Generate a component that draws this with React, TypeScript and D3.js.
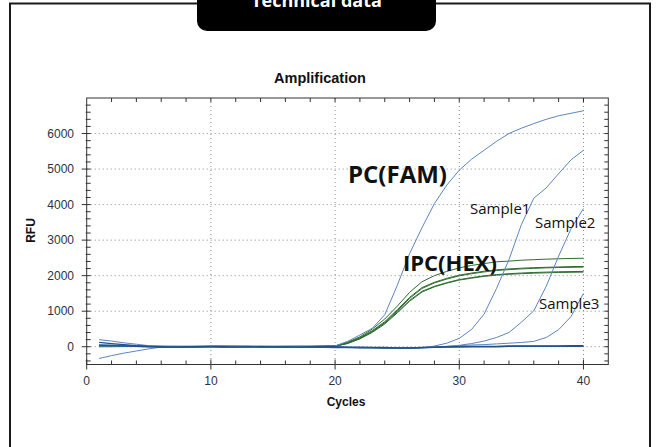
import React from "react";
import * as d3 from "d3";

const cycles = [1,2,3,4,5,6,7,8,9,10,11,12,13,14,15,16,17,18,19,20,21,22,23,24,25,26,27,28,29,30,31,32,33,34,35,36,37,38,39,40];

const pc = [200,160,110,70,30,0,-10,0,10,0,-10,0,10,5,0,-5,0,5,10,20,150,330,520,900,1720,2620,3350,4030,4550,4970,5280,5530,5780,6000,6150,6280,6400,6500,6570,6640];
const sample1 = [20,15,10,5,0,0,-5,-10,0,10,20,10,0,-10,0,5,0,-10,-20,-30,-30,-20,-20,-30,-40,-50,-30,20,100,236,490,920,1640,2450,3435,4180,4470,4870,5260,5530];
const sample2 = [60,50,40,20,10,0,10,0,-10,0,10,20,10,0,-10,-10,0,0,-10,-20,-20,-30,-30,-40,-30,-30,-20,0,10,40,90,160,260,400,690,1010,1700,2550,3320,3890];
const sample3 = [-330,-250,-180,-120,-60,-10,0,-10,-20,0,0,10,10,0,-10,-10,0,-10,-10,-20,-20,-20,-30,-30,-40,-40,-30,-10,10,30,50,60,80,100,120,150,260,480,850,1500];
const ntc1 = [120,90,60,30,10,0,-10,-10,0,10,0,-10,-10,0,0,-10,-10,0,0,0,-10,-10,-20,-20,-30,-30,-20,-10,0,0,10,10,10,20,20,20,20,20,30,30];
const ntc2 = [40,30,20,10,0,-10,-10,0,0,0,-10,-10,0,-10,0,0,-10,-10,-10,-20,-20,-30,-30,-40,-40,-40,-30,-20,-10,0,0,0,0,10,10,10,10,10,10,10];

const hex1 = [40,35,30,25,20,15,10,10,10,15,15,10,10,10,10,10,10,10,15,25,125,280,500,780,1140,1530,1830,2000,2120,2220,2290,2340,2390,2410,2435,2450,2465,2475,2485,2490];
const hex2 = [10,10,10,10,10,5,5,5,10,10,10,5,5,10,10,10,10,10,15,20,110,255,455,705,1040,1390,1665,1815,1925,2015,2075,2125,2165,2190,2210,2225,2235,2245,2255,2260];
const hex3 = [30,25,20,20,15,10,10,10,10,10,10,10,10,10,5,5,10,10,10,15,95,235,430,680,1010,1360,1640,1795,1905,1995,2055,2105,2145,2170,2190,2205,2220,2230,2235,2240];
const hex4 = [0,0,5,5,5,5,10,10,10,10,10,10,10,10,10,10,10,10,15,18,105,240,425,665,975,1305,1560,1700,1805,1890,1945,1995,2030,2055,2075,2090,2100,2110,2115,2120];
const hex5 = [20,20,15,15,10,10,5,5,5,10,10,10,10,5,5,10,10,10,10,12,90,220,405,640,950,1280,1540,1685,1790,1875,1930,1980,2015,2040,2055,2070,2080,2090,2095,2100];

const famSeries = [pc, sample1, sample2, sample3];
const ntcSeries = [ntc1, ntc2];
const hexSeries = [hex1, hex2, hex3, hex4, hex5];

const xTicks = [0, 10, 20, 30, 40];
const xMinorTicks = [2,4,6,8,12,14,16,18,22,24,26,28,32,34,36,38,40,42];
const yTicks = [0, 1000, 2000, 3000, 4000, 5000, 6000];
const yMinorTicks = [-400,-200,200,400,600,800,1200,1400,1600,1800,2200,2400,2600,2800,3200,3400,3600,3800,4200,4400,4600,4800,5200,5400,5600,5800,6200,6400,6600,6800];

const annotations = [
  { text: "PC(FAM)", x: 348, y: 183, size: 24, weight: 700 },
  { text: "IPC(HEX)", x: 403, y: 270.5, size: 22, weight: 700 },
  { text: "Sample1", x: 470, y: 214, size: 15, weight: 400 },
  { text: "Sample2", x: 535, y: 228, size: 15, weight: 400 },
  { text: "Sample3", x: 539, y: 309, size: 15, weight: 400 },
];

export default function App() {
  const W = 656, H = 447;
  const x = d3.scaleLinear().domain([0, 42]).range([86.7, 608.3]);
  const y = d3.scaleLinear().domain([-500, 7000]).range([364.5, 98]);
  const line = (vals: number[]) =>
    d3.line<number>().x((_, i) => x(cycles[i])).y((d) => y(d))(vals) || "";
  const [x0, x1] = x.range();
  const [yb, yt] = y.range();
  const axisColor = "#333";
  const sans = "'Liberation Sans', Arial, sans-serif";
  const open = "'Open Sans', 'Noto Sans', sans-serif";
  return (
    <svg width={W} height={H} style={{ position: "absolute", left: 0, top: 0, background: "#fff" }}>
      <rect x={10} y={3.5} width={640} height={470} fill="none" stroke="#1a1a1a" strokeWidth={2} />
      <rect x={197} y={-20} width={239} height={51} rx={10} fill="#000" />
      <text x={316.5} y={7} textAnchor="middle" fill="#fff" fontFamily={open} fontWeight={700} fontSize={18}>Technical data</text>

      <text x={320} y={83} textAnchor="middle" fontFamily={sans} fontWeight={700} fontSize={14.5} fill="#111">Amplification</text>

      {xTicks.filter((t) => t > 0).map((t) => (
        <line key={"gx" + t} x1={x(t)} x2={x(t)} y1={yt} y2={yb} stroke="#8a8a8a" strokeWidth={1} strokeDasharray="1,3" />
      ))}
      {yTicks.map((t) => (
        <line key={"gy" + t} x1={x0} x2={x1} y1={y(t)} y2={y(t)} stroke="#8a8a8a" strokeWidth={1} strokeDasharray="1,3" />
      ))}

      <defs>
        <clipPath id="plotclip">
          <rect x={x0} y={yt} width={x1 - x0} height={yb - yt} />
        </clipPath>
      </defs>
      <g fill="none" clipPath="url(#plotclip)">
        {hexSeries.map((s, i) => (
          <path key={"h" + i} d={line(s)} stroke="#2f6d2f" strokeWidth={1} />
        ))}
        {famSeries.map((s, i) => (
          <path key={"f" + i} d={line(s)} stroke="#5b86be" strokeWidth={1} />
        ))}
        {ntcSeries.map((s, i) => (
          <path key={"n" + i} d={line(s)} stroke="#22528c" strokeWidth={1.3} />
        ))}
      </g>

      <rect x={x0} y={yt} width={x1 - x0} height={yb - yt} fill="none" stroke={axisColor} strokeWidth={1} />

      {xTicks.map((t) => (
        <line key={"bx" + t} x1={x(t)} x2={x(t)} y1={yb - 5} y2={yb + 5} stroke={axisColor} strokeWidth={1} />
      ))}
      {xMinorTicks.filter((t) => t < 42).map((t) => (
        <line key={"bm" + t} x1={x(t)} x2={x(t)} y1={yb - 4} y2={yb} stroke={axisColor} strokeWidth={1} />
      ))}
      {[...xTicks, ...xMinorTicks].filter((t) => t > 0 && t < 42).map((t) => (
        <line key={"tx" + t} x1={x(t)} x2={x(t)} y1={yt} y2={yt + 4} stroke={axisColor} strokeWidth={1} />
      ))}
      {yTicks.map((t) => (
        <line key={"ly" + t} x1={x0 - 5} x2={x0 + 4} y1={y(t)} y2={y(t)} stroke={axisColor} strokeWidth={1} />
      ))}
      {yMinorTicks.map((t) => (
        <line key={"lm" + t} x1={x0 - 1} x2={x0 + 4} y1={y(t)} y2={y(t)} stroke={axisColor} strokeWidth={1} />
      ))}
      {[...yTicks, ...yMinorTicks].map((t) => (
        <line key={"ry" + t} x1={x1 - 4} x2={x1} y1={y(t)} y2={y(t)} stroke={axisColor} strokeWidth={1} />
      ))}

      {xTicks.map((t) => (
        <text key={"xl" + t} x={x(t)} y={385} textAnchor="middle" fontFamily={sans} fontSize={12} fill="#2a3346">{t}</text>
      ))}
      {yTicks.map((t) => (
        <text key={"yl" + t} x={74} y={y(t) + 4.2} textAnchor="end" fontFamily={sans} fontSize={12} fill="#2a3346">{t}</text>
      ))}

      <text x={346} y={406} textAnchor="middle" fontFamily={sans} fontWeight={700} fontSize={12} fill="#111">Cycles</text>
      <text transform={`translate(35,230.5) rotate(-90)`} textAnchor="middle" fontFamily={sans} fontWeight={700} fontSize={12} fill="#111">RFU</text>

      {annotations.map((a) => (
        <text key={a.text} x={a.x} y={a.y} fontFamily={open} fontWeight={a.weight} fontSize={a.size} fill="#111">{a.text}</text>
      ))}
    </svg>
  );
}
